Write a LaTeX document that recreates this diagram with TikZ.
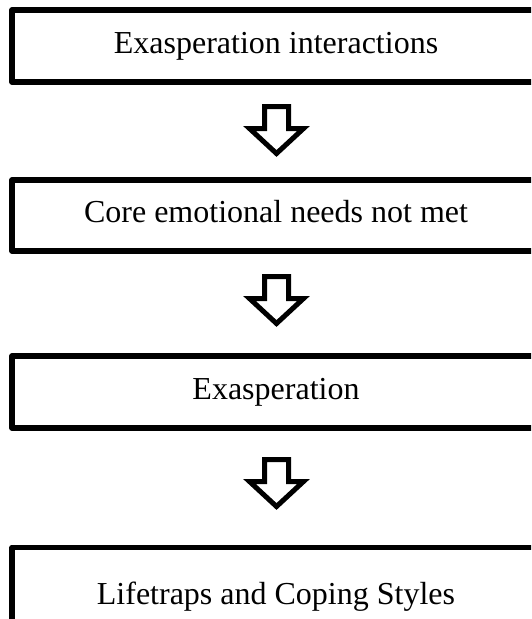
\documentclass[tikz,border=0pt]{standalone}
\usepackage{fontspec}
\setmainfont{Liberation Serif}
\begin{document}
\begin{tikzpicture}[x=1pt,y=-1pt,
  stage/.style={draw, line width=5.5pt, line join=round, minimum width=528pt,
    inner sep=0pt, text height=22pt, text depth=8pt,
    font=\fontsize{32}{38}\selectfont},
  blockarrow/.style={draw, line width=5pt, line join=miter, fill=white}]
\useasboundingbox (0,0) rectangle (531,619);
\clip (0,0) rectangle (531,619);

% stages of the process
\node[stage, minimum height=72pt] (s1) at (276,46) {Exasperation interactions};
\node[stage, minimum height=71pt] (s2) at (276,215.5) {Core emotional needs not met};
\node[stage, minimum height=72pt] (s3) at (276,392) {Exasperation};
\node[stage, minimum height=100pt] (s4) at (276,597.5) {Lifetraps and Coping Styles};

% hollow block arrows between the stages
\coordinate (a1) at (276.5,106.5);
\coordinate (a2) at (276.5,276.5);
\coordinate (a3) at (276.5,459.5);
\foreach \a in {a1,a2,a3}{
  \draw[blockarrow] (\a) ++(-12,0) -- ++(0,22) -- ++(-15,0) -- ++(27,25)
    -- ++(27,-25) -- ++(-15,0) -- ++(0,-22) -- cycle;
}
\end{tikzpicture}
\end{document}
